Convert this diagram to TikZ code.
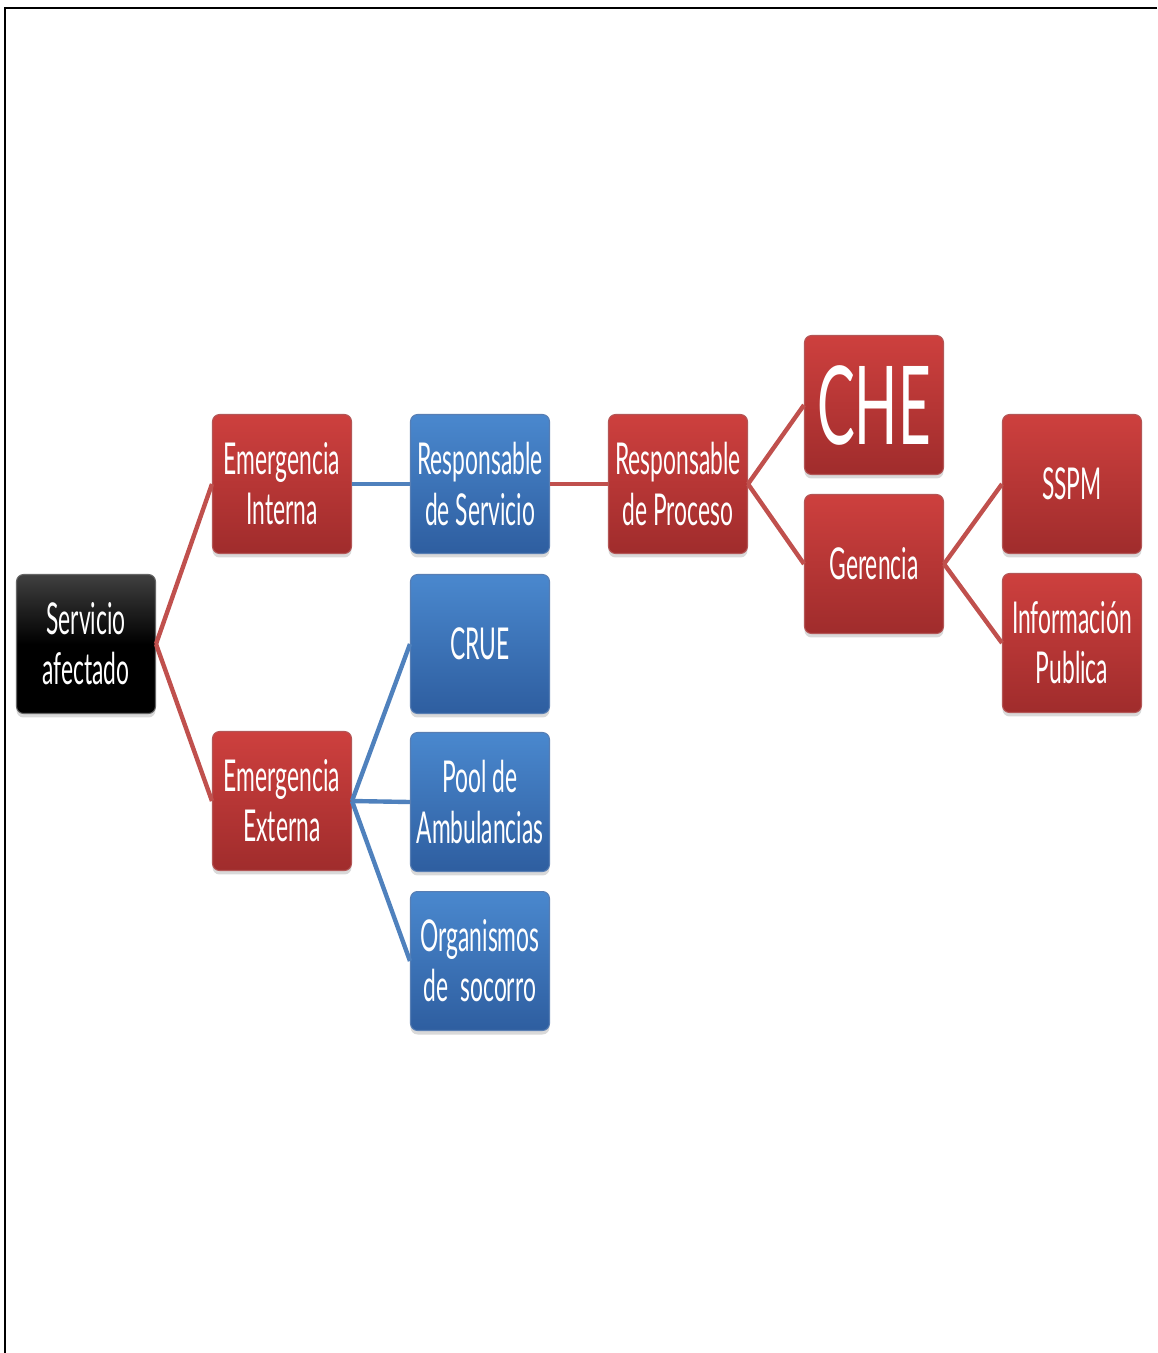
\documentclass[tikz,border=0pt]{standalone}
\usepackage{fontspec}
\setmainfont[FakeStretch=0.52]{Lato}
\usetikzlibrary{shadows}
\definecolor{redtop}{RGB}{205,64,62}
\definecolor{redbot}{RGB}{160,44,44}
\definecolor{bluetop}{RGB}{74,136,206}
\definecolor{bluebot}{RGB}{46,94,160}
\definecolor{redline}{RGB}{192,80,77}
\definecolor{blueline}{RGB}{79,129,189}
\tikzset{
  card/.style={rectangle, rounded corners=0.14cm, minimum width=2.78cm, minimum height=2.78cm,
    inner sep=0pt, align=center, text=white, font=\fontsize{25}{28.5}\selectfont,
    drop shadow={shadow xshift=0pt, shadow yshift=-0.08cm, opacity=0.3}},
  redcard/.style={card, top color=redtop, bottom color=redbot, draw=redbot!80!white, line width=0.6pt},
  bluecard/.style={card, top color=bluetop, bottom color=bluebot, draw=bluebot!80!white, line width=0.6pt},
  blackcard/.style={card, top color=black!75, bottom color=black, middle color=black, draw=black!60, line width=0.6pt},
  redlink/.style={redline, line width=2.5pt},
  bluelink/.style={blueline, line width=2.5pt}
}
\begin{document}
\begin{tikzpicture}[x=0.02cm, y=-0.02cm]
  \useasboundingbox (0,0) rectangle (1157,1353);
  % frame
  \draw [black, line width=1.7pt] (1157,8) -- (5,8) -- (5,1353);
  % first level
  \node [blackcard] (servicio) at (86,644) {Servicio\\afectado};
  \node [redcard] (interna) at (282,484) {Emergencia\\Interna};
  \node [redcard] (externa) at (282,801) {Emergencia\\Externa};
  % blue column
  \node [bluecard] (respserv) at (480,484) {Responsable\\de Servicio};
  \node [bluecard] (crue) at (480,644) {CRUE};
  \node [bluecard] (pool) at (480,802) {Pool de\\Ambulancias};
  \node [bluecard] (organismos) at (480,961) {Organismos\\de\ \ socorro};
  % right branch
  \node [redcard] (respproc) at (678,484) {Responsable\\de Proceso};
  \node [redcard, font=\fontsize{62}{62}\selectfont] (che) at (874,405) {CHE};
  \node [redcard] (gerencia) at (874,564) {Gerencia};
  \node [redcard] (sspm) at (1072,484) {SSPM};
  \node [redcard] (info) at (1072,643) {Información\\Publica};
  % connectors
  \draw [redlink] (servicio.east) -- (interna.west);
  \draw [redlink] (servicio.east) -- (externa.west);
  \draw [bluelink] (interna.east) -- (respserv.west);
  \draw [bluelink] (externa.east) -- (crue.west);
  \draw [bluelink] (externa.east) -- (pool.west);
  \draw [bluelink] (externa.east) -- (organismos.west);
  \draw [redlink] (respserv.east) -- (respproc.west);
  \draw [redlink] (respproc.east) -- (che.west);
  \draw [redlink] (respproc.east) -- (gerencia.west);
  \draw [redlink] (gerencia.east) -- (sspm.west);
  \draw [redlink] (gerencia.east) -- (info.west);
\end{tikzpicture}
\end{document}
